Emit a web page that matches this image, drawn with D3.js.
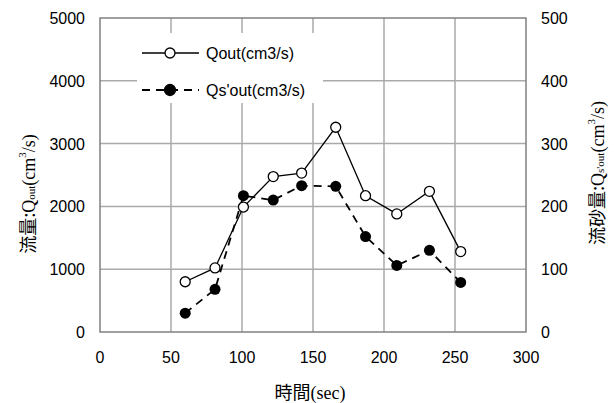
<!DOCTYPE html>
<html>
<head>
<meta charset="utf-8">
<script src="https://cdn.jsdelivr.net/npm/d3@7"></script>
<style>
  body { margin: 0; background: #fff; }
  svg { display: block; }
</style>
</head>
<body>
<div class="chart"></div>
<script>
// data
const times = [60, 81, 101, 122, 142, 166, 187, 209, 232, 254];
const qout = [800, 1020, 1990, 2475, 2530, 3260, 2170, 1880, 2240, 1280];
const qsout = [30, 68, 217, 210, 233, 232, 152, 106, 130, 79];
const xTicks = [0, 50, 100, 150, 200, 250, 300];
const yTicks = [0, 1000, 2000, 3000, 4000, 5000];
const y2Ticks = [0, 100, 200, 300, 400, 500];
const legendNames = ["Qout(cm3/s)", "Qs'out(cm3/s)"];

const W = 616, H = 403;
const m = { left: 100, right: 90, top: 18, bottom: 71 };

const svg = d3.select('.chart').append('svg')
  .attr('width', W)
  .attr('height', H);

const x = d3.scaleLinear().domain([0, 300]).range([m.left, W - m.right]);
const y = d3.scaleLinear().domain([0, 5000]).range([H - m.bottom, m.top]);
const y2 = d3.scaleLinear().domain([0, 500]).range([H - m.bottom, m.top]);

const tickFont = '"Liberation Sans", Arial, sans-serif';

// grid
svg.append('g').selectAll('line.vx')
  .data(xTicks.slice(1, -1))
  .join('line')
  .attr('x1', d => x(d)).attr('x2', d => x(d))
  .attr('y1', y(0)).attr('y2', y(5000))
  .attr('stroke', '#aaa').attr('stroke-width', 1.5);

svg.append('g').selectAll('line.hy')
  .data(yTicks.slice(1, -1))
  .join('line')
  .attr('x1', x(0)).attr('x2', x(300))
  .attr('y1', d => y(d)).attr('y2', d => y(d))
  .attr('stroke', '#aaa').attr('stroke-width', 1.5);

// frame
svg.append('rect')
  .attr('x', x(0)).attr('y', y(5000))
  .attr('width', x(300) - x(0)).attr('height', y(0) - y(5000))
  .attr('fill', 'none')
  .attr('stroke', '#808080').attr('stroke-width', 1.5);

// tick labels
svg.append('g').selectAll('text')
  .data(yTicks)
  .join('text')
  .attr('x', x(0) - 15).attr('y', d => y(d) + 6)
  .attr('text-anchor', 'end')
  .attr('font-family', tickFont).attr('font-size', 16)
  .text(d => d);

svg.append('g').selectAll('text')
  .data(y2Ticks)
  .join('text')
  .attr('x', x(300) + 15).attr('y', d => y2(d) + 6)
  .attr('text-anchor', 'start')
  .attr('font-family', tickFont).attr('font-size', 16)
  .text(d => d);

svg.append('g').selectAll('text')
  .data(xTicks)
  .join('text')
  .attr('x', d => x(d)).attr('y', y(0) + 31)
  .attr('text-anchor', 'middle')
  .attr('font-family', tickFont).attr('font-size', 16)
  .text(d => d);

// axis titles
const cjk = '"Noto Sans CJK JP", sans-serif';
const serif = '"Liberation Serif", "Times New Roman", serif';

const xt = svg.append('text')
  .attr('x', 310).attr('y', 399)
  .attr('text-anchor', 'middle')
  .attr('font-size', 18);
xt.append('tspan').attr('font-family', cjk).text('時間');
xt.append('tspan').attr('font-family', serif).text('(sec)');

function yTitle(tx, ty, label, sub) {
  const t = svg.append('text')
    .attr('transform', `translate(${tx},${ty}) rotate(-90)`)
    .attr('text-anchor', 'middle')
    .attr('font-size', 18);
  t.append('tspan').attr('font-family', cjk).text(label);
  t.append('tspan').attr('font-family', serif).text('Q');
  t.append('tspan').attr('font-family', serif).attr('font-size', 11).text(sub);
  t.append('tspan').attr('font-family', serif).text('(cm');
  t.append('tspan').attr('font-family', serif).attr('font-size', 11).attr('dy', -9).text('3');
  t.append('tspan').attr('font-family', serif).attr('dy', 9).text('/s)');
}
yTitle(35, 194, '流量:', 'out');
yTitle(604, 173, '流砂量:', "s'out");

// series
const lineQ = d3.line().x((d, i) => x(times[i])).y(d => y(d));
const lineS = d3.line().x((d, i) => x(times[i])).y(d => y2(d));

svg.append('path')
  .datum(qsout)
  .attr('d', lineS)
  .attr('fill', 'none')
  .attr('stroke', '#000').attr('stroke-width', 1.8)
  .attr('stroke-dasharray', '8,6');

svg.append('g').selectAll('circle')
  .data(qsout)
  .join('circle')
  .attr('cx', (d, i) => x(times[i])).attr('cy', d => y2(d))
  .attr('r', 5.5)
  .attr('fill', '#000');

svg.append('path')
  .datum(qout)
  .attr('d', lineQ)
  .attr('fill', 'none')
  .attr('stroke', '#000').attr('stroke-width', 1.3);

svg.append('g').selectAll('circle')
  .data(qout)
  .join('circle')
  .attr('cx', (d, i) => x(times[i])).attr('cy', d => y(d))
  .attr('r', 5)
  .attr('fill', '#fff')
  .attr('stroke', '#000').attr('stroke-width', 1.3);

// legend
const lg = svg.append('g');
lg.append('rect')
  .attr('x', 137).attr('y', 33)
  .attr('width', 186).attr('height', 70)
  .attr('fill', '#fff');

legendNames.forEach((name, i) => {
  const ly = 53 + i * 37;
  lg.append('line')
    .attr('x1', 142).attr('x2', 199)
    .attr('y1', ly).attr('y2', ly)
    .attr('stroke', '#000')
    .attr('stroke-width', i === 0 ? 1.3 : 1.8)
    .attr('stroke-dasharray', i === 0 ? null : '8,6');
  lg.append('circle')
    .attr('cx', 170).attr('cy', ly)
    .attr('r', i === 0 ? 5 : 5.5)
    .attr('fill', i === 0 ? '#fff' : '#000')
    .attr('stroke', '#000').attr('stroke-width', 1.3);
  lg.append('text')
    .attr('x', 206).attr('y', ly + 6)
    .attr('font-family', tickFont).attr('font-size', 16)
    .text(name);
});
</script>
</body>
</html>
